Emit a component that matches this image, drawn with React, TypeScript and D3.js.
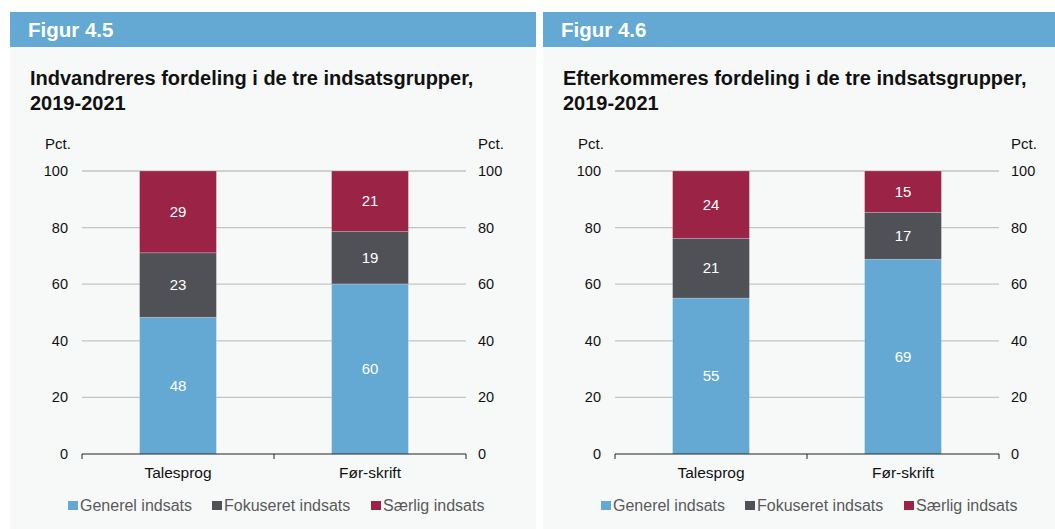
import React from "react";
import * as d3 from "d3";

const categories = ["Talesprog", "Før-skrift"];
const seriesNames = ["Generel indsats", "Fokuseret indsats", "Særlig indsats"];
const seriesColors = ["#63a9d4", "#4f5157", "#9a2346"];
const yTicks = [0, 20, 40, 60, 80, 100];

// Figur 4.5 – Indvandrere
const immGenerel = [48.3, 60.1];
const immFokuseret = [22.8, 18.6];
const immSaerlig = [28.9, 21.3];

// Figur 4.6 – Efterkommere
const descGenerel = [55.1, 68.8];
const descFokuseret = [21.1, 16.6];
const descSaerlig = [23.8, 14.6];

const panels = [
  {
    fig: "Figur 4.5",
    title: ["Indvandreres fordeling i de tre indsatsgrupper,", "2019-2021"],
    series: [immGenerel, immFokuseret, immSaerlig],
  },
  {
    fig: "Figur 4.6",
    title: ["Efterkommeres fordeling i de tre indsatsgrupper,", "2019-2021"],
    series: [descGenerel, descFokuseret, descSaerlig],
  },
];

const FONT = "'Liberation Sans', Arial, Helvetica, sans-serif";

function Panel({ ox, p }: { ox: number; p: (typeof panels)[number] }) {
  const x0 = 82 + ox;
  const x1 = 466 + ox;
  const x = d3.scaleBand<string>().domain(categories).range([x0, x1]).paddingInner(0.6).paddingOuter(0.3);
  const y = d3.scaleLinear().domain([0, 100]).range([454, 171]);

  const rows = categories.map((c, i) => {
    const r: any = { cat: c };
    seriesNames.forEach((s, k) => (r[s] = p.series[k][i]));
    return r;
  });
  const stacked = d3.stack<any>().keys(seriesNames)(rows);

  const legendX = [68, 212, 371];

  return (
    <g>
      <rect x={10 + ox} y={47} width={526} height={482} fill="#f7f9f9" />
      <rect x={10 + ox} y={12} width={526} height={35} fill="#63a9d4" />
      <text x={28 + ox} y={36.5} fill="#fff" fontWeight="bold" fontSize={20.5} fontFamily={FONT}>
        {p.fig}
      </text>
      {p.title.map((t, i) => (
        <text key={i} x={30 + ox} y={85 + i * 25} fill="#111" fontWeight="bold" fontSize={20} fontFamily={FONT}>
          {t}
        </text>
      ))}
      <text x={45 + ox} y={149} fontSize={15} fontFamily={FONT} fill="#111">Pct.</text>
      <text x={478 + ox} y={149} fontSize={15} fontFamily={FONT} fill="#111">Pct.</text>
      {yTicks.map((t) => (
        <g key={t}>
          {t > 0 && <line x1={x0} x2={x1} y1={y(t)} y2={y(t)} stroke="#c3c3c3" strokeWidth={1.3} />}
          <text x={68 + ox} y={y(t)} dy="0.35em" textAnchor="end" fontSize={14.5} fontFamily={FONT} fill="#111">
            {t}
          </text>
          <text x={478 + ox} y={y(t)} dy="0.35em" fontSize={14.5} fontFamily={FONT} fill="#111">
            {t}
          </text>
        </g>
      ))}
      {stacked.map((layer, k) =>
        layer.map((d, i) => {
          const top = y(d[1]);
          const bot = y(d[0]);
          return (
            <g key={k + "-" + i}>
              <rect
                x={x(categories[i])}
                y={top}
                width={x.bandwidth()}
                height={bot - top}
                fill={seriesColors[k]}
                stroke="rgba(255,255,255,0.25)"
                strokeWidth={0.8}
              />
              <text
                x={(x(categories[i]) as number) + x.bandwidth() / 2}
                y={(top + bot) / 2}
                dy="0.35em"
                textAnchor="middle"
                fill="#fff"
                fontSize={15}
                fontFamily={FONT}
              >
                {Math.round(d[1] - d[0])}
              </text>
            </g>
          );
        })
      )}
      <line x1={x0} x2={x1} y1={454} y2={454} stroke="#222" strokeWidth={1.2} />
      {[x0, (x0 + x1) / 2, x1].map((tx, i) => (
        <line key={i} x1={tx} x2={tx} y1={454} y2={459} stroke="#222" strokeWidth={1} />
      ))}
      {categories.map((c) => (
        <text
          key={c}
          x={(x(c) as number) + x.bandwidth() / 2}
          y={478}
          textAnchor="middle"
          fontSize={15.5}
          fontFamily={FONT}
          fill="#111"
        >
          {c}
        </text>
      ))}
      {seriesNames.map((s, k) => (
        <g key={s}>
          <rect x={legendX[k] + ox} y={501} width={10} height={9} fill={seriesColors[k]} />
          <text x={legendX[k] + 12 + ox} y={510.5} fontSize={16} fontFamily={FONT} fill="#595959">
            {s}
          </text>
        </g>
      ))}
    </g>
  );
}

export default function App() {
  return (
    <svg
      width={1055}
      height={529}
      style={{ position: "absolute", left: 0, top: 0, background: "#fff" }}
    >
      <rect width={1055} height={529} fill="#fff" />
      {panels.map((p, i) => (
        <Panel key={i} ox={i * 533} p={p} />
      ))}
    </svg>
  );
}
